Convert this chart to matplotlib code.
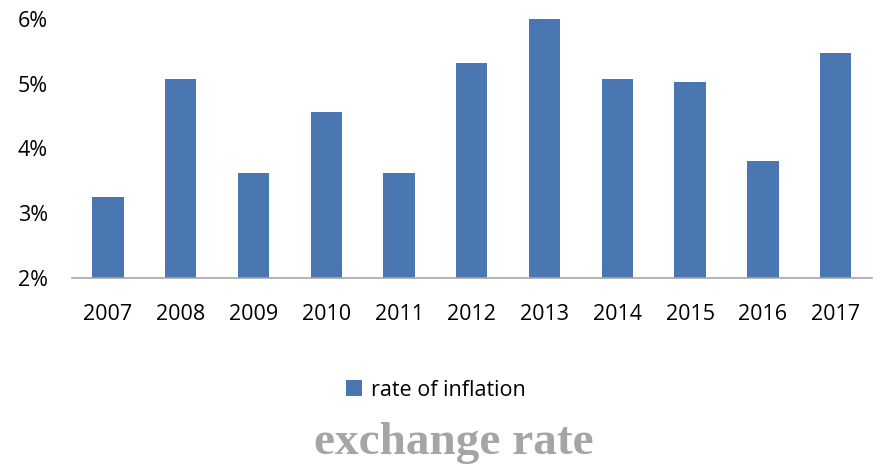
import matplotlib.pyplot as plt
import numpy as np

years = ['2007', '2008', '2009', '2010', '2011', '2012',
         '2013', '2014', '2015', '2016', '2017']
inflation = [3.25, 5.07, 3.62, 4.56, 3.62, 5.32, 6.0, 5.07, 5.03, 3.81, 5.47]
y_ticks = [2, 3, 4, 5, 6]

plt.rcParams['font.family'] = ['Open Sans', 'DejaVu Sans']

fig = plt.figure(figsize=(8.88, 4.70), dpi=100)
ax = fig.add_axes([0.0806, 0.4085, 0.9014, 0.5511])

x = np.arange(len(years))
bars = ax.bar(x, inflation, width=0.43, color='#4a76b1', label='rate of inflation', zorder=2)

ax.set_xlim(-0.5, len(years) - 0.5)
ax.set_ylim(2, 6)
ax.set_xticks(x)
ax.set_xticklabels(years)
ax.set_yticks(y_ticks)
ax.set_yticklabels([f'{v}%' for v in y_ticks])
ax.tick_params(axis='x', length=0, pad=19, labelsize=15.5)
ax.tick_params(axis='y', length=0, pad=17, labelsize=15.5)

for side in ['top', 'right', 'left']:
    ax.spines[side].set_visible(False)
ax.spines['bottom'].set_color('#a6a6a6')
ax.spines['bottom'].set_linewidth(1.2)

fig.legend(handles=[bars], loc='center', bbox_to_anchor=(436 / 888, 1 - 390 / 470),
           frameon=False, fontsize=15.5, handlelength=0.75, handleheight=0.75,
           handletextpad=0.4)

fig.text(454 / 888, 1 - 443 / 470, 'exchange rate', ha='center', va='center',
         family='Liberation Serif', fontweight='bold', fontsize=34, color='#a5a5a5')

fig.savefig('out.png', dpi=100)
